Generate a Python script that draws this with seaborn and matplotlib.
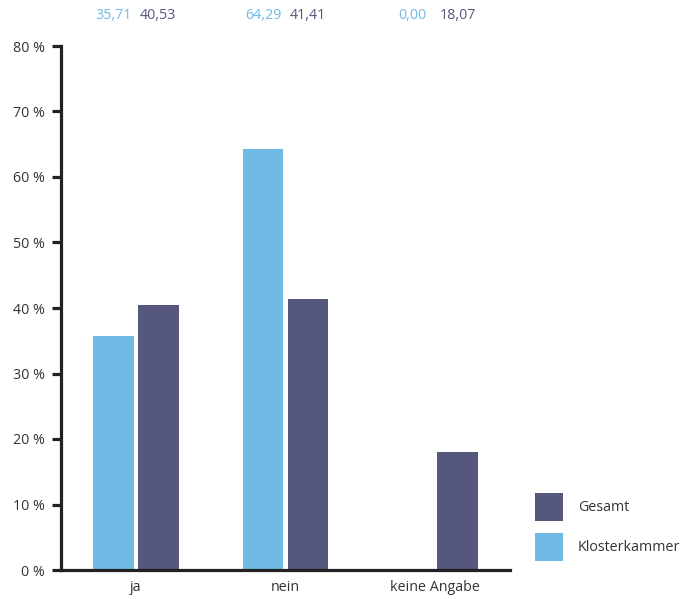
import matplotlib
matplotlib.use("Agg")
import matplotlib.pyplot as plt
import seaborn as sns
import pandas as pd
from matplotlib.patches import Patch

categories = ["ja", "nein", "keine Angabe"]
series_names = ["Klosterkammer", "Gesamt"]
klosterkammer = [35.71, 64.29, 0.00]
gesamt = [40.53, 41.41, 18.07]
y_ticks = [0, 10, 20, 30, 40, 50, 60, 70, 80]

colors = {"Klosterkammer": "#72BAE6", "Gesamt": "#55577C"}
text_color = "#333333"

sns.set_theme(style="white")
plt.rcParams["font.family"] = ["Open Sans", "DejaVu Sans"]

df = pd.DataFrame({
    "Kategorie": categories * 2,
    "Gruppe": [series_names[0]] * 3 + [series_names[1]] * 3,
    "Wert": klosterkammer + gesamt,
})

fig = plt.figure(figsize=(6.86, 5.99), dpi=100)
ax = fig.add_axes([61 / 686, 29 / 599, 449 / 686, 524 / 599])

sns.barplot(data=df, x="Kategorie", y="Wert", hue="Gruppe",
            order=categories, hue_order=series_names, palette=colors,
            width=0.6, gap=0.09, saturation=1, legend=False, ax=ax,
            errorbar=None, linewidth=0)

ax.set_xlim(-0.5, 2.5)
ax.set_ylim(0, 80)
ax.set_yticks(y_ticks)
ax.set_yticklabels([f"{t} %" for t in y_ticks])
ax.set_xlabel("")
ax.set_ylabel("")

for side in ("top", "right"):
    ax.spines[side].set_visible(False)
for side in ("left", "bottom"):
    ax.spines[side].set_linewidth(2.3)
    ax.spines[side].set_color("#222222")

ax.tick_params(axis="y", which="major", direction="out", length=6.5,
               width=2.3, color="#222222", labelsize=10.3, labelcolor=text_color, pad=5,
               left=True)
ax.tick_params(axis="x", length=0, labelsize=10.3, labelcolor=text_color, pad=7)

# value labels above the plot area, one per bar
for container, name in zip(ax.containers, series_names):
    values = klosterkammer if name == "Klosterkammer" else gesamt
    for bar, val in zip(container, values):
        xc = bar.get_x() + bar.get_width() / 2
        ax.text(xc, 84.7, f"{val:.2f}".replace(".", ","), ha="center", va="center",
                fontsize=10.3, color=colors[name], clip_on=False)

handles = [Patch(facecolor=colors["Gesamt"], edgecolor="none"),
           Patch(facecolor=colors["Klosterkammer"], edgecolor="none")]
fig.legend(handles, ["Gesamt", "Klosterkammer"], loc="upper left",
           bbox_to_anchor=(535 / 686, 1 - 493 / 599), bbox_transform=fig.transFigure,
           frameon=False, fontsize=10.3, handlelength=1.95, handleheight=2.6,
           labelspacing=0.88, handletextpad=1.05, borderpad=0, borderaxespad=0,
           labelcolor=text_color)

fig.savefig("out.png", dpi=100)
